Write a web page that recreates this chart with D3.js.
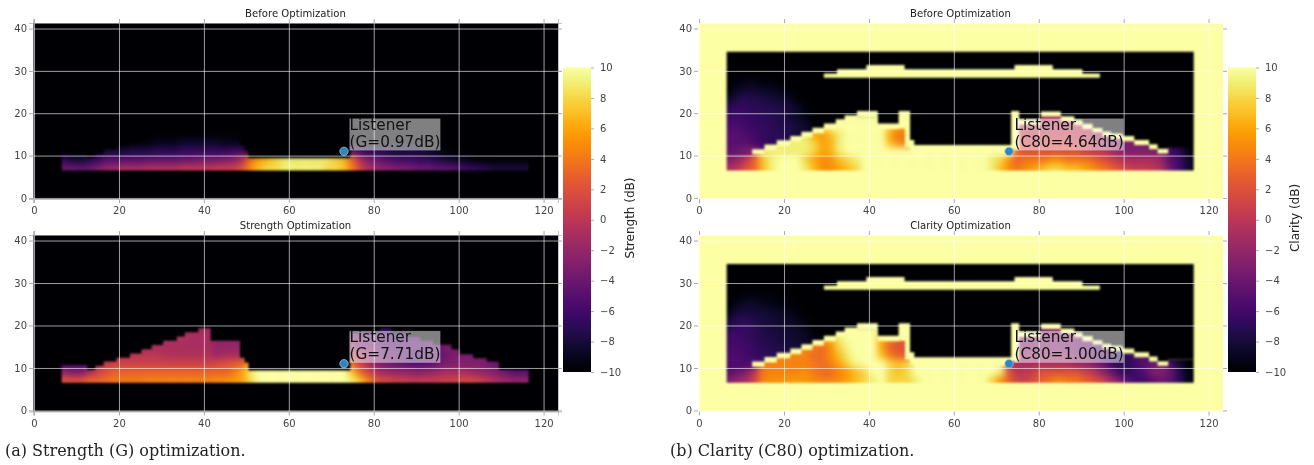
<!DOCTYPE html>
<html>
<head>
<meta charset="utf-8">
<script src="https://cdn.jsdelivr.net/npm/d3@7"></script>
<style>
  html, body { margin: 0; background: #fff; }
  svg { display: block; filter: blur(0.35px); }
  text { font-family: 'DejaVu Sans', sans-serif; }
  .tick text { font-size: 10px; fill: #444; }
  .caption { font-family: 'DejaVu Serif', serif; font-size: 16px; fill: #222; }
</style>
</head>
<body>
<svg id="chart" width="1314" height="465"></svg>
<script>
const xTicks = [0, 20, 40, 60, 80, 100, 120]
const yTicks = [0, 10, 20, 30, 40]
const barTicks = [-10, -8, -6, -4, -2, 0, 2, 4, 6, 8, 10]

// field cells are 2 wide and 2 high, first cell starts at x=6, y=6 (dB)
// each row: x 6..48, then the stage x 50..72, then x 74..116. missing cells stay black
const strengthBefore = [
  [-4, -4, -4.5, -4, -3, -2, -1.5, -1, -1, -1, -0.5, -0.5, -0.5, -0.5, 0, 0, 0, 0, 0.5, 0.5, 1, 2,
    5, 7, 8, 8, 9, 9, 9, 9, 9, 8, 8, 7,
    4, 1, -1, -2, -2.5, -3, -3, -3.5, -4, -4, -4.5, -4.5, -5, -6, -6.5, -7, -7.5, -8, -8, -8, -8, -8],
  [-7, -8, -8, -7.5, -6.5, -5, -5, -5, -5, -5, -4.5, -4.5, -4.5, -4.5, -4, -4, -3.5, -3.5, -3.5, -3, -2.5, -0.5,
    4, 6, 7, 8, 9, 9, 9, 9, 9, 9, 8, 7,
    3, -1, -3, -4, -5, -5.5, -6, -6, -6.5, -6.5, -7.5, -8, -8.5, -9, -9.5, -10, -10, -10, -10, -10, -10, -10],
  [-10, -10, -10, -10, -9, -8, -8, -8, -7.5, -7.5, -7.5, -7, -7, -7, -6.5, -6.5, -6.5, -6.5, -6.5, -6.5, -6, -6,
    -10, -10, -10, -10, -10, -10, -10, -10, -10, -10, -10, -10,
    -5, -6, -7, -7, -7.5, -8, -8, -8, -8, -8.5, -9, -9.5, -10, -10],
  [-10, -10, -10, -10, -10, -10, -10, -10, -10, -10, -9.5, -9, -9, -9, -8.5, -8.5, -8.5, -8.5, -8.5, -9, -9, -9]
]
const strengthAfter = [
  [2, 2, 2, 3, 3, 3.5, 4, 4, 4, 4, 4.5, 4.5, 4.5, 4.5, 4.5, 4.5, 4.5, 4.5, 5, 5, 5.5, 6,
    8, 10, 10, 10, 10, 10, 10, 10, 10, 10, 10, 10,
    9, 7, 4, 2, 1.5, 1, 1, 0.5, 0.5, 0.5, 0.5, 1, 1, 1.5, 1.5, 1, 0, -1, -1.5, -2, -2, -2],
  [-2, -3, -3, -1, 1, 2, 3, 3, 3, 3, 3, 3, 3, 3, 3, 3, 3, 3, 3, 3, 4, 6,
    9, 10, 10, 10, 10, 10, 10, 10, 10, 10, 10, 10,
    7, 3, 1, -1, -1.5, -2, -2, -2.5, -2.5, -2, -1.5, -1, -1, -1, -1.5, -2, -2.5, -3, -4, -5, -5, -5],
  [-6, -6, -6, -5, -1, 0.5, 1, 1, 1, 1, 1, 1, 1, 1, 1, 1, 1, 1, 1.5, 2, 2.5, 3,
    6, 10, 10, 10, 10, 10, 10, 10, 10, 10, 10, 10,
    3, 1, -1, -3, -3.5, -4, -4.5, -5, -5, -5, -4, -3, -3, -3, -3, -3, -3.5, -4, -5, -6, -6, -6],
  [-6, -6, -6, -5, -1, -1, 0, 0, 0, 0, 0, 0, -0.5, -0.5, -0.5, -0.5, -0.5, -0.5, -1.5, -1, -1, -1,
    3, 10, 10, 10, 10, 10, 10, 10, 10, 10, 10, 10,
    0, -1, -2, -3, -4, -4.5, -5, -5.5, -5.5, -5, -4.5, -4, -3, -3, -3, -3, -3],
  [-6, -6, -6, -5, -1, -1, 0, 0, -1, -1, -1, -1, -1, -1, -1, -1, -1, -1, -2, -2, -2, -2,
    -2, 10, 10, 10, 10, 10, 10, 10, 10, 10, 10, 10,
    -2, -3, -3, -4, -4.5, -5, -5, -5, -5, -4.5, -4, -3, -3],
  [-6, -6, -6, -5, -1, -1, -1, -1, -1, -1, -1, -1, -0.5, -0.5, -0.5, -1, -1, -1, -2, -2, -2, -2,
    -2, 10, 10, 10, 10, 10, 10, 10, 10, 10, 10, 10,
    -3, -3, -4, -5, -5.5, -6, -5.5, -5, -5, -5],
  [-6, -6, -6, -5, -1, -1, -1, -1, -1, -1, -1, -1, -1, -1, -1, -1, -1, -1, -2, -2, -2, -2,
    -2, 10, 10, 10, 10, 10, 10, 10, 10, 10, 10, 10,
    -5, -5, -6, -7, -7, -7, -6]
]

const clarityBefore = [
  [-1, 0, 2, 3, 7, 9, 10, 10, 10, 9, 7, 5, 5, 6, 7, 8, 10, 10, 10, 10, 10, 10,
    10, 10, 10, 10, 10, 10, 10, 10, 10, 9, 7, 5,
    4, 5, 6, 7, 8, 8, 7, 7, 6, 5, 4, 3, 2, 1, 0.5, 0.5, 0, -1, -4, -6, -8, -10],
  [-3, -2, 0, 3, 7, 9, 10, 10, 10, 8, 6, 5, 5, 7, 8, 9, 10, 10, 10, 10, 10, 10,
    10, 10, 10, 10, 10, 10, 10, 10, 10, 9, 8, 5,
    3, 4, 4, 4, 5, 5, 4, 4, 4, 3, 2, 1, 0, -1, -1, -1, -1, -2, -5, -6, -8, -10],
  [-4, -4, -3, 0, 9, 9, 9, 9, 9, 9, 8, 6, 6.5, 9, 10, 10, 10, 10, 10, 10, 10, 10,
    10, 10, 10, 10, 10, 10, 10, 10, 10, 10, 10, 10,
    3, 2, 2, 2, 2, 2, 2, 2, 1, 0.5, 0, -1, -2, -3, -3, -3, -3, -3, -6, -7, -9, -10],
  [-4, -5, -5, -6, 9, 9, 9, 9, 9, 9, 8, 6, 6.5, 9, 10, 10, 10, 10, 10, 7, 5, 4,
    10, 10, 10, 10, 10, 10, 10, 10, 10, 10, 10, 10,
    2, 1, 1, 1, 1, 1, 1, 1, 1, 0, -1, -2, -3, -3, -3, -3],
  [-5, -5, -6, -6, 9, 9, 9, 9, 9, 9, 6, 5.5, 7, 9, 10, 10, 10, 10, 10, 6, 4, 4,
    10, 10, 10, 10, 10, 10, 10, 10, 10, 10, 10, 10,
    1, 0.5, 0.5, 0.5, 0.5, 0.5, 0.5, 0, 0, -1, -2, -3, -3, -3],
  [-5, -5, -6, -6, 9, 9, 9, 9, 9, 9, 10, 10, 10, 10, 10, 10, 10, 10, 10, 8, 6, 6,
    10, 10, 10, 10, 10, 10, 10, 10, 10, 10, 10, 10,
    0, 0, 0, 0, 0, 0, 0, 0, 0, -1],
  [10, 10, 10, 10, 10, 10, 10, 10, 10, 10, 10, 10, 10, 10, 10, 10, 10, 10, 10, 10, 10, 10,
    10, 10, 10, 10, 10, 10, 10, 10, 10, 10, 10, 10,
    -1, -1, -1, -1, -1, -1, 0, 0, -1]
]
const clarityAfter = [
  [-3, -2, -1, 1, 4.5, 5, 5, 5.5, 5.5, 5.5, 5, 4.5, 4.5, 5, 6, 7, 8, 9, 10, 8, 8, 8,
    9, 10, 10, 10, 10, 10, 10, 10, 10, 8, 5, 3,
    1, 1, 2, 3, 4, 5, 4, 4, 3, 2, 1, -1, -3, -5, -6, -6, -5, -4, -5, -7, -9, -10],
  [-5, -4, -3, 0, 4, 4.5, 4.5, 4.5, 4.5, 5, 4, 3.5, 3.5, 4.5, 5.5, 7, 8, 10, 10, 8, 7, 8,
    10, 10, 10, 10, 10, 10, 10, 10, 10, 10, 9, 2,
    0, 0, 1, 2, 2, 2, 2, 2, 1, 0, -2, -4, -6, -7, -6, -5, -3, -3, -4, -7, -9, -10],
  [-6, -6, -6, -6, 4, 4.5, 4.5, 4.5, 4.5, 4.5, 4, 3.5, 4.5, 6, 8, 9.5, 10, 10, 10, 8, 7, 8,
    10, 10, 10, 10, 10, 10, 10, 10, 10, 10, 10, 0,
    -1, -1, -1, -1, -1, -1, -1, -2, -2, -3, -4, -6, -7, -7, -6, -5, -4, -3, -6, -8, -10, -10],
  [-6, -6, -6, -6, 4.5, 4.5, 4.5, 4.5, 4.5, 4.5, 3.5, 3.5, 5, 7, 9, 10, 10, 10, 7, 4, 3, 2,
    10, 10, 10, 10, 10, 10, 10, 10, 10, 10, 10, -2,
    -2, -2, -2, -2, -2, -2, -2, -3, -3, -4, -5, -6, -7, -7, -5, -5],
  [-6, -6, -6, -6, 5, 5, 5, 5, 5, 5, 4, 3.5, 5, 8, 9.5, 10, 10, 10, 6, 3, 2, 2,
    10, 10, 10, 10, 10, 10, 10, 10, 10, 10, 10, -3,
    -3, -3, -3, -3, -3, -3, -3.5, -4, -4, -5, -5, -6, -6],
  [-6, -6, -6, -6, 5, 5, 5, 5, 5, 5, 5, 5, 7, 9, 10, 10, 10, 10, 6, 4, 3, 3,
    10, 10, 10, 10, 10, 10, 10, 10, 10, 10, 10, -3,
    -3, -3, -3, -3, -3, -3, -3, -4, -4, -5],
  [10, 10, 10, 10, 10, 10, 10, 10, 10, 10, 10, 10, 10, 10, 10, 10, 10, 10, 10, 10, 10, 10,
    10, 10, 10, 10, 10, 10, 10, 10, 10, 10, 10, 10,
    -3, -3, -3, -3, -2, -2, -3, -3, -3]
]

// the dark air over the seats in the clarity panels (same cells, x 6..28)
const clarityAirBefore = [
  [-2, -2, -2, -2],
  [-4, -4, -3, -2],
  [-4.5, -4, -3.5, -2, -5, -6, -7, -7, -8, -8, -9, -9],
  [-5, -5, -5, -6, -6.5, -7, -7, -7.5, -8, -8.5, -9],
  [-5, -5, -5.5, -6, -6.5, -7, -7, -7.5, -8, -8.5, -9],
  [-5.5, -5.5, -6, -6.5, -6.5, -7, -7.5, -7.5, -8, -8.5, -9.5],
  [-6, -6, -6.5, -6.5, -7, -7, -7.5, -8, -8.5, -9],
  [-7, -6.5, -6.5, -7, -7, -7.5, -7.5, -8, -8.5, -9.5],
  [-8, -7.5, -7, -7.5, -7.5, -8, -8, -8.5, -9.5],
  [-9.5, -8.5, -8, -8, -8.5, -8.5, -9, -9.5],
  [-10, -9.5, -9, -9, -9.5, -9.5]
]
const clarityAirAfter = [
  [-3, -3, -3, -3],
  [-5, -5, -4, -3],
  [-5.5, -5.5, -5.5, -5, -6, -7, -7, -7.5, -8, -8, -8.5, -9],
  [-5.5, -5.5, -6, -6.5, -7, -7, -7.5, -7.5, -8, -8.5, -9],
  [-6, -6, -6, -6.5, -7, -7.5, -7.5, -8, -8, -8.5, -9],
  [-6, -6, -6.5, -7, -7.5, -7.5, -8, -8, -8.5, -8.5, -9.5],
  [-7, -6.5, -6.5, -7, -7.5, -8, -8, -8.5, -8.5, -9],
  [-8, -7, -7, -7.5, -8, -8, -8.5, -8.5, -9, -9.5],
  [-9, -8, -8, -8, -8, -8.5, -8.5, -9, -9.5],
  [-10, -9, -8.5, -8.5, -9, -9, -9.5, -9.5],
  [-10, -10, -9.5, -9.5, -9.5, -9.5]
]

// room outline in metres. steps hold their value until the next x
const seatX = [6.5, 12.5, 14.4, 16.4, 19.4, 22.6, 25.3, 27.7, 30.4, 33.6, 35.5, 38.7, 41.6, 48.5, 49.6, 50.5, 74.5, 81.4, 84.2, 88, 91, 94, 98.3, 100.3, 103.4, 106.6, 109.5, 116.5]
const seatTop = [10.7, 9.6, 10.5, 11.5, 12.4, 13.4, 14.4, 15.4, 16.4, 17.4, 18.4, 19.4, 16.4, 12.4, 11.3, 9.4, 18.3, 19.4, 18.2, 17.3, 16.4, 15.5, 14.4, 13.2, 12.3, 11.5, 9.6, 9.6]

const wallX = [6.5, 12.5, 15.4, 18.3, 21.5, 24.1, 26.7, 29.4, 32.2, 34.3, 37.2, 42.1, 47, 48.5, 49.7, 50.7, 73.5, 75.4, 80.5, 85.2, 88.4, 90.3, 92.7, 95, 97, 99.7, 102.5, 106, 108, 110.5, 116.5]
const wallTop = [10, 11.5, 12.6, 13.6, 14.6, 15.6, 16.6, 17.6, 18.6, 19.5, 20.5, 17.6, 20.5, 20.5, 13.7, 12.5, 20.5, 18.5, 20.4, 19.3, 18.4, 17.5, 16.5, 15.7, 15.2, 14.6, 13.7, 12.7, 11.6, 12, 12]
const wallBottom = [10, 10.3, 11.3, 12.3, 13.3, 14.3, 15.3, 16.3, 17.3, 18.2, 19.2, 16.3, 16.4, 12, 11, 10.5, 11.5, 17.3, 19.2, 18.1, 17.2, 16.3, 15.5, 14.5, 14, 13.4, 12.5, 11.5, 10.5, 12, 12]

const reflectorX = [29.4, 32.5, 39.4, 48.4, 74.3, 83.3, 90.3, 94.4]
const reflectorTop = [29.4, 30.4, 31.4, 30.4, 31.4, 30.4, 29.4, 29.4]
const reflectorBottom = 28.4
const roomFloor = 6.5
const roomCeiling = 34.5

const listener = [73, 11]
const titles = ['Before Optimization', 'Strength Optimization', 'Before Optimization', 'Clarity Optimization']
const labels = ['(G=0.97dB)', '(G=7.71dB)', '(C80=4.64dB)', '(C80=1.00dB)']
const captions = ['(a) Strength (G) optimization.', '(b) Clarity (C80) optimization.']

const svg = d3.select('#chart')
const color = d3.scaleSequential(d3.interpolateInferno).domain([-10, 10])

const defs = svg.append('defs')
const addBlur = (id, size) => {
  defs.append('filter')
    .attr('id', id)
    .attr('filterUnits', 'userSpaceOnUse')
    .attr('x', 0).attr('y', 0).attr('width', 1314).attr('height', 465)
    .attr('color-interpolation-filters', 'sRGB')
    .append('feGaussianBlur').attr('stdDeviation', size)
}
addBlur('field-blur', 3.4)
addBlur('edge-blur', 0.9)

const stepArea = (x, y, xs, top, bottom) =>
  d3.area()
    .curve(d3.curveStepAfter)
    .x((d, i) => x(xs[i]))
    .y0((d, i) => y(bottom(i)))
    .y1((d, i) => y(top(i)))(xs)

// coloured cells, smoothed like the imshow interpolation, cut to the given outline
const drawField = (parent, id, rows, x, y, outline) => {
  defs.append('clipPath').attr('id', id).append('path').attr('d', outline)
  const cells = parent.append('g').attr('clip-path', `url(#${id})`)
    .append('g').attr('filter', 'url(#field-blur)')
  cells.append('rect')
    .attr('x', x.range()[0] - 20).attr('y', y.range()[1] - 20)
    .attr('width', x.range()[1] - x.range()[0] + 40)
    .attr('height', y.range()[0] - y.range()[1] + 40)
    .attr('fill', color(-10))
  rows.forEach((row, r) => {
    cells.selectAll(null)
      .data(row)
      .join('rect')
      // outer cells run on a bit so the blur does not darken the room edge
      .attr('x', (d, i) => x(i === 0 ? 2 : 6 + i * 2))
      .attr('width', (d, i) => x(6 + i * 2 + (i === 0 ? 2 : i === 55 ? 6 : 2)) - x(i === 0 ? 2 : 6 + i * 2) + 0.5)
      .attr('y', y(6 + r * 2 + 2) - 0.5)
      .attr('height', y(r === 0 ? 2 : 6 + r * 2) - y(6 + r * 2 + 2) + 0.5)
      .attr('fill', (d) => color(d))
  })
}

const drawPanel = (p, index) => {
  const x = d3.scaleLinear().domain([-0.25, 123.4]).range([p.left, p.right])
  const y = d3.scaleLinear().domain([-0.25, 41.3]).range([p.bottom, p.top])
  const g = svg.append('g')

  defs.append('clipPath').attr('id', `plot-${index}`)
    .append('rect')
    .attr('x', p.left).attr('y', p.top)
    .attr('width', p.right - p.left).attr('height', p.bottom - p.top)

  const image = g.append('g').attr('clip-path', `url(#plot-${index})`)
    .append('g').attr('filter', 'url(#edge-blur)')
  image.append('rect')
    .attr('x', p.left - 10).attr('y', p.top - 10)
    .attr('width', p.right - p.left + 20).attr('height', p.bottom - p.top + 20)
    .attr('fill', color(p.air ? 10 : -10))

  if (p.air) {
    const airOutline = stepArea(x, y, wallX, (i) => roomCeiling, (i) => wallTop[i])
    const seatOutline = stepArea(x, y, wallX, (i) => wallBottom[i], (i) => roomFloor)
    drawField(image, `air-${index}`, p.air, x, y, airOutline)
    drawField(image, `seats-${index}`, p.rows, x, y, seatOutline)
    image.append('path')
      .attr('d', stepArea(x, y, reflectorX, (i) => reflectorTop[i], (i) => reflectorBottom))
      .attr('fill', color(10))
  } else {
    const outline = stepArea(x, y, seatX, (i) => seatTop[i], (i) => roomFloor)
    drawField(image, `seats-${index}`, p.rows, x, y, outline)
  }

  const h = p.bottom - p.top
  const w = p.right - p.left

  // grid first, then the small ticks outside the frame
  const grid = g.append('g').attr('class', 'grid')
  grid.append('g').attr('transform', `translate(0,${p.bottom})`)
    .call(d3.axisBottom(x).tickValues(xTicks).tickSize(-h).tickFormat(''))
  grid.append('g').attr('transform', `translate(${p.left},0)`)
    .call(d3.axisLeft(y).tickValues(yTicks).tickSize(-w).tickFormat(''))
  grid.selectAll('.domain').remove()
  grid.selectAll('line').attr('stroke', '#fff').attr('stroke-opacity', 0.62).attr('stroke-width', 1)

  const frame = g.append('g')
  frame.append('g').attr('transform', `translate(0,${p.bottom})`)
    .call(d3.axisBottom(x).tickValues(xTicks).tickSize(4).tickPadding(4))
  frame.append('g').attr('transform', `translate(${p.left},0)`)
    .call(d3.axisLeft(y).tickValues(yTicks).tickSize(4).tickPadding(2))
  frame.append('g').attr('transform', `translate(0,${p.top})`)
    .call(d3.axisTop(x).tickValues(xTicks).tickSize(4).tickFormat(''))
  frame.append('g').attr('transform', `translate(${p.right},0)`)
    .call(d3.axisRight(y).tickValues(yTicks).tickSize(4).tickFormat(''))
  frame.selectAll('.domain').attr('stroke', p.air ? '#fff' : '#aaa').attr('stroke-opacity', 0.7)
  frame.selectAll('.tick line').attr('stroke', '#aaa')

  g.append('text')
    .attr('x', (p.left + p.right) / 2)
    .attr('y', p.top - 6)
    .attr('text-anchor', 'middle')
    .attr('font-size', 10.1)
    .attr('fill', '#222')
    .text(titles[index])

  // listener note: white see-through box sized from the text
  const note = g.append('g')
  const box = note.append('rect').attr('fill', '#fff').attr('fill-opacity', 0.5)
  const noteText = note.append('text')
    .attr('font-size', 15.3)
    .attr('fill', '#111')
  noteText.append('tspan')
    .attr('x', x(listener[0]) + 5.5)
    .attr('y', y(listener[1]) - 21.3)
    .text('Listener')
  noteText.append('tspan')
    .attr('x', x(listener[0]) + 5.5)
    .attr('y', y(listener[1]) - 4.6)
    .text(labels[index])
  const b = noteText.node().getBBox()
  box.attr('x', b.x).attr('y', b.y + 2.5).attr('width', b.width).attr('height', b.height - 2.8)

  g.append('circle')
    .attr('cx', x(listener[0]))
    .attr('cy', y(listener[1]))
    .attr('r', 4.2)
    .attr('fill', '#2e86c1')
    .attr('stroke', '#9cc4dc')
    .attr('stroke-width', 0.8)
}

const panels = [
  { left: 33, right: 558, top: 23, bottom: 199, rows: strengthBefore },
  { left: 33, right: 558, top: 235, bottom: 411.5, rows: strengthAfter },
  { left: 698, right: 1223, top: 23, bottom: 199, rows: clarityBefore, air: clarityAirBefore },
  { left: 698, right: 1223, top: 235, bottom: 411.5, rows: clarityAfter, air: clarityAirAfter }
]
panels.forEach(drawPanel)

// colour bars
const gradient = defs.append('linearGradient')
  .attr('id', 'bar-colors')
  .attr('x1', 0).attr('x2', 0).attr('y1', 1).attr('y2', 0)
d3.range(0, 1.001, 0.02).forEach((t) => {
  gradient.append('stop').attr('offset', t).attr('stop-color', d3.interpolateInferno(t))
})

const drawBar = (left, name, nameX) => {
  const barY = d3.scaleLinear().domain([-10, 10]).range([372, 67.5])
  svg.append('rect')
    .attr('x', left).attr('y', 67.5)
    .attr('width', 28).attr('height', 304.5)
    .attr('fill', 'url(#bar-colors)')
  const axis = svg.append('g')
    .attr('transform', `translate(${left + 28},0)`)
    .call(d3.axisRight(barY).tickValues(barTicks).tickSize(3).tickPadding(6).tickFormat((d) => String(d).replace('-', '\u2212')))
  axis.select('.domain').remove()
  axis.selectAll('.tick line').attr('stroke', '#aaa')
  svg.append('text')
    .attr('transform', `translate(${nameX},218) rotate(-90)`)
    .attr('text-anchor', 'middle')
    .attr('font-size', 12)
    .attr('fill', '#222')
    .text(name)
}
drawBar(563, 'Strength (dB)', 634)
drawBar(1228, 'Clarity (dB)', 1299)

svg.selectAll('.caption')
  .data(captions)
  .join('text')
  .attr('class', 'caption')
  .attr('x', (d, i) => (i === 0 ? 5 : 670))
  .attr('y', 456)
  .text((d) => d)
</script>
</body>
</html>
